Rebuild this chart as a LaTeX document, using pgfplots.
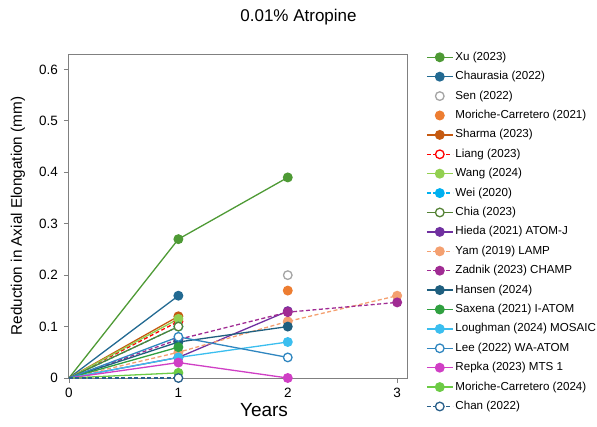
\documentclass[border=0pt]{standalone}
\usepackage{pgfplots}
\pgfplotsset{compat=1.18}
\usepackage{fontspec}
\setmainfont{Liberation Sans}
\definecolor{cXu}{HTML}{4E9A35}
\definecolor{cCha}{HTML}{236A92}
\definecolor{cSen}{HTML}{A5A5A5}
\definecolor{cMor}{HTML}{ED7D31}
\definecolor{cSha}{HTML}{C55A11}
\definecolor{cLia}{HTML}{FF0000}
\definecolor{cWan}{HTML}{92D050}
\definecolor{cWei}{HTML}{00B0F0}
\definecolor{cChi}{HTML}{548235}
\definecolor{cHie}{HTML}{7030A0}
\definecolor{cYam}{HTML}{F4A070}
\definecolor{cZad}{HTML}{A02B93}
\definecolor{cHan}{HTML}{1F5F7F}
\definecolor{cSax}{HTML}{30A040}
\definecolor{cLou}{HTML}{3BBEEF}
\definecolor{cLee}{HTML}{2F86C0}
\definecolor{cRep}{HTML}{D03FC5}
\definecolor{cMo2}{HTML}{6CCB45}
\definecolor{cChan}{HTML}{285F8A}
\pgfplotsset{
  ser/.style={line width=1.3pt, mark=*, mark size=4.3pt, mark phase=2, mark repeat=1, mark options={solid}},
  open/.style={mark options={solid, fill=white, line width=1.3pt}},
  dsh/.style={dash pattern=on 4pt off 2.5pt},
}
\begin{document}
\begin{tikzpicture}
\path[use as bounding box] (0pt,0pt) rectangle (597pt,426pt);
\node[font=\fontsize{17}{20}\selectfont] at (298.5pt,409pt) {0.01\% Atropine};
\begin{axis}[
  at={(69pt,48pt)}, anchor=south west,
  scale only axis, width=338pt, height=324pt,
  xmin=0, xmax=3.09, ymin=0, ymax=0.63,
  xtick={0,1,2,3}, xticklabels={0,1,2,3},
  ytick={0,0.1,0.2,0.3,0.4,0.5,0.6},
  yticklabels={0,0.1,0.2,0.3,0.4,0.5,0.6},
  tick label style={font=\fontsize{13.5}{15}\selectfont, black},
  yticklabel style={xshift=-2.5pt},
  xticklabel style={yshift=-1.5pt},
  tick pos=left, tick align=outside, major tick length=5pt,
  tick style={color=gray, line width=0.8pt},
  axis line style={draw=gray, line width=1pt},
  clip=false,
  unbounded coords=jump,
  xlabel={Years},
  xlabel style={at={(axis description cs:0.577,0)}, anchor=center, yshift=-32pt, font=\fontsize{19}{22}\selectfont},
  ylabel={Reduction in Axial Elongation (mm)},
  ylabel style={at={(axis description cs:-0.151,0.5)}, anchor=center, font=\fontsize{15.3}{18}\selectfont},
  legend cell align=left,
  legend image code/.code={\draw[#1, mark repeat=2, mark phase=2] plot coordinates {(0pt,0pt) (13pt,0pt) (26pt,0pt)};},
  legend style={at={(axis description cs:1.056,1.009)}, anchor=north west, draw=none, fill=none,
    font=\fontsize{11.6}{13}\selectfont, inner sep=0pt, row sep=7.4pt, column sep=2pt,
    nodes={inner sep=0pt, text height=9pt, text depth=3pt}},
]
\addplot[ser, color=cXu] coordinates {(0,0)(1,0.27)(2,0.39)};
\addlegendentry{Xu (2023)}
\addplot[ser, color=cCha] coordinates {(0,0)(1,0.16)};
\addlegendentry{Chaurasia (2022)}
\addplot[ser, only marks, mark phase=1, color=cSen, open] coordinates {(2,0.20)};
\addlegendentry{Sen (2022)}
\addplot[ser, only marks, mark phase=1, color=cMor] coordinates {(2,0.17)};
\addlegendentry{Moriche-Carretero (2021)}
\addplot[ser, color=cSha] coordinates {(0,0)(1,0.12)};
\addlegendentry{Sharma (2023)}
\addplot[ser, dsh, color=cLia, open] coordinates {(0,0)(1,0.11)};
\addlegendentry{Liang (2023)}
\addplot[ser, color=cWan] coordinates {(0,0)(1,0.115)};
\addlegendentry{Wang (2024)}
\addplot[ser, dsh, color=cWei] coordinates {(0,0)(1,0.10)};
\addlegendentry{Wei (2020)}
\addplot[ser, color=cChi, open] coordinates {(0,0)(1,0.10)};
\addlegendentry{Chia (2023)}
\addplot[ser, color=cHie] coordinates {(0,0)(1,0.04)(2,0.13)};
\addlegendentry{Hieda (2021) ATOM-J}
\addplot[ser, dsh, color=cYam] coordinates {(0,0)(1,0.05)(2,0.11)(3,0.16)};
\addlegendentry{Yam (2019) LAMP}
\addplot[ser, dsh, color=cZad] coordinates {(0,0)(1,0.075)(2,0.128)(3,0.147)};
\addlegendentry{Zadnik (2023) CHAMP}
\addplot[ser, color=cHan] coordinates {(0,0)(1,0.07)(2,0.10)};
\addlegendentry{Hansen (2024)}
\addplot[ser, color=cSax] coordinates {(0,0)(1,0.06)};
\addlegendentry{Saxena (2021) I-ATOM}
\addplot[ser, color=cLou] coordinates {(0,0)(1,0.04)(2,0.07)};
\addlegendentry{Loughman (2024) MOSAIC}
\addplot[ser, color=cLee, open] coordinates {(0,0)(1,0.08)(2,0.04)};
\addlegendentry{Lee (2022) WA-ATOM}
\addplot[ser, color=cRep] coordinates {(0,0)(1,0.03)(2,0)};
\addlegendentry{Repka (2023) MTS 1}
\addplot[ser, color=cMo2] coordinates {(0,0)(1,0.01)(2,nan)(3,0.01)};
\addlegendentry{Moriche-Carretero (2024)}
\addplot[ser, dsh, color=cChan, open] coordinates {(0,0)(1,0)};
\addlegendentry{Chan (2022)}
\end{axis}
\end{tikzpicture}
\end{document}
